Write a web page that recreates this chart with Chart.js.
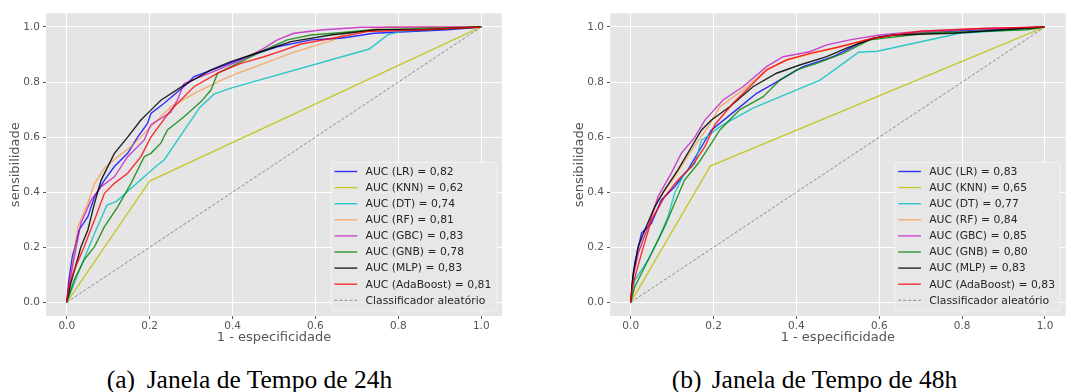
<!DOCTYPE html>
<html><head><meta charset="utf-8">
<script src="https://cdn.jsdelivr.net/npm/chart.js@4"></script>
<style>
html,body{margin:0;padding:0;background:#fff}
body{width:1071px;height:392px;overflow:hidden;position:relative;font-family:'DejaVu Sans'}
canvas{position:absolute;top:0}
#c1{left:0}
#c2{left:564px}
.cap{position:absolute;top:367px;font-family:'Liberation Serif';font-size:25.5px;line-height:25px;color:#000;white-space:nowrap}
</style></head>
<body>
<canvas id="c1" width="535" height="350"></canvas>
<canvas id="c2" width="507" height="350"></canvas>
<div class="cap" style="left:106.7px">(a)</div>
<div class="cap" style="left:146.7px">Janela de Tempo de 24h</div>
<div class="cap" style="left:671.7px">(b)</div>
<div class="cap" style="left:711.7px">Janela de Tempo de 48h</div>
<script>
// ---------- tick labels ----------
const tickVals = [0, 0.2, 0.4, 0.6, 0.8, 1.0];
const tickLabels = ['0.0', '0.2', '0.4', '0.6', '0.8', '1.0'];

// ---------- legend labels ----------
const labels24 = ['AUC (LR) = 0,82','AUC (KNN) = 0,62','AUC (DT) = 0,74','AUC (RF) = 0,81','AUC (GBC) = 0,83','AUC (GNB) = 0,78','AUC (MLP) = 0,83','AUC (AdaBoost) = 0,81','Classificador aleatório'];
const labels48 = ['AUC (LR) = 0,83','AUC (KNN) = 0,65','AUC (DT) = 0,77','AUC (RF) = 0,84','AUC (GBC) = 0,85','AUC (GNB) = 0,80','AUC (MLP) = 0,83','AUC (AdaBoost) = 0,83','Classificador aleatório'];

// ---------- 24h curves (fpr / tpr) ----------
const lr24_fpr  = [0,0.005,0.014,0.018,0.030,0.051,0.067,0.091,0.115,0.147,0.171,0.195,0.203,0.235,0.291,0.307,0.372,0.436,0.508,0.589,0.661,0.741,0.918,1];
const lr24_tpr  = [0,0.08,0.17,0.19,0.263,0.311,0.384,0.444,0.493,0.541,0.60,0.65,0.686,0.723,0.795,0.82,0.856,0.892,0.928,0.953,0.959,0.977,0.99,1];
const knn24_fpr = [0,0.2,1];
const knn24_tpr = [0,0.44,1];
const dt24_fpr  = [0,0.034,0.067,0.097,0.119,0.219,0.235,0.321,0.356,0.40,0.73,0.775,0.81,1];
const dt24_tpr  = [0,0.129,0.25,0.353,0.366,0.499,0.517,0.708,0.757,0.78,0.92,0.972,0.985,1];
const rf24_fpr  = [0,0.01,0.027,0.051,0.067,0.091,0.123,0.155,0.195,0.251,0.316,0.364,0.412,0.476,0.540,0.605,0.644,0.673,0.773,1];
const rf24_tpr  = [0,0.1,0.275,0.36,0.432,0.487,0.529,0.565,0.626,0.71,0.765,0.801,0.832,0.868,0.904,0.935,0.953,0.977,1,1];
const gbc24_fpr = [0,0.01,0.034,0.059,0.083,0.115,0.147,0.187,0.203,0.251,0.267,0.283,0.324,0.364,0.412,0.468,0.508,0.548,0.613,0.709,1];
const gbc24_tpr = [0,0.1,0.287,0.372,0.42,0.456,0.529,0.59,0.645,0.69,0.735,0.795,0.82,0.844,0.874,0.916,0.953,0.977,0.989,0.999,1];
const gnb24_fpr = [0,0.018,0.042,0.067,0.091,0.123,0.155,0.187,0.203,0.227,0.243,0.283,0.324,0.348,0.364,0.412,0.468,0.532,0.589,0.644,0.741,1];
const gnb24_tpr = [0,0.081,0.154,0.202,0.275,0.347,0.432,0.529,0.541,0.578,0.626,0.674,0.729,0.771,0.832,0.868,0.91,0.953,0.971,0.977,0.99,1];
const mlp24_fpr = [0,0.01,0.034,0.051,0.067,0.083,0.115,0.147,0.179,0.203,0.227,0.283,0.348,0.396,0.468,0.541,0.637,0.749,0.861,1];
const mlp24_tpr = [0,0.07,0.2,0.263,0.36,0.444,0.541,0.60,0.662,0.698,0.734,0.789,0.844,0.874,0.91,0.947,0.971,0.99,0.99,1];
const ada24_fpr = [0,0.005,0.018,0.042,0.067,0.091,0.115,0.147,0.179,0.203,0.251,0.307,0.364,0.42,0.476,0.524,0.565,0.644,0.725,0.861,1];
const ada24_tpr = [0,0.06,0.117,0.202,0.299,0.396,0.432,0.469,0.529,0.60,0.698,0.783,0.832,0.868,0.892,0.916,0.938,0.96,0.983,0.99,1];

// ---------- 48h curves (fpr / tpr) ----------
const lr48_fpr  = [0,0.005,0.01,0.026,0.05,0.074,0.106,0.138,0.171,0.195,0.255,0.304,0.36,0.416,0.489,0.553,0.601,0.7,0.85,1];
const lr48_tpr  = [0,0.08,0.142,0.251,0.287,0.372,0.42,0.481,0.565,0.626,0.699,0.759,0.807,0.856,0.892,0.941,0.965,0.98,0.99,1];
const knn48_fpr = [0,0.192,1];
const knn48_tpr = [0,0.495,1];
const dt48_fpr  = [0,0.01,0.042,0.066,0.09,0.106,0.13,0.155,0.171,0.183,0.215,0.295,0.457,0.513,0.55,0.595,0.795,0.899,1];
const dt48_tpr  = [0,0.081,0.154,0.226,0.311,0.396,0.469,0.505,0.59,0.60,0.638,0.705,0.807,0.868,0.908,0.912,0.977,0.987,1];
const rf48_fpr  = [0,0.005,0.018,0.042,0.066,0.106,0.147,0.187,0.215,0.271,0.328,0.376,0.441,0.505,0.569,0.65,0.8,1];
const rf48_tpr  = [0,0.09,0.178,0.275,0.372,0.456,0.553,0.638,0.71,0.771,0.844,0.88,0.904,0.928,0.953,0.975,0.99,1];
const gbc48_fpr = [0,0.005,0.018,0.042,0.066,0.098,0.122,0.155,0.179,0.223,0.271,0.328,0.368,0.432,0.473,0.529,0.601,0.7,0.85,1];
const gbc48_tpr = [0,0.09,0.178,0.275,0.384,0.469,0.541,0.60,0.662,0.735,0.783,0.856,0.892,0.91,0.935,0.953,0.971,0.985,0.995,1];
const gnb48_fpr = [0,0.01,0.034,0.058,0.082,0.106,0.13,0.163,0.195,0.215,0.263,0.32,0.36,0.40,0.449,0.513,0.553,0.577,0.714,0.956,1];
const gnb48_tpr = [0,0.057,0.129,0.202,0.275,0.36,0.444,0.505,0.578,0.626,0.699,0.747,0.807,0.844,0.868,0.904,0.935,0.953,0.977,0.99,1];
const mlp48_fpr = [0,0.003,0.006,0.018,0.034,0.058,0.082,0.114,0.147,0.171,0.195,0.239,0.295,0.352,0.408,0.473,0.521,0.585,0.634,0.779,0.899,1];
const mlp48_tpr = [0,0.06,0.105,0.202,0.263,0.347,0.408,0.481,0.565,0.626,0.662,0.71,0.783,0.832,0.862,0.892,0.923,0.959,0.971,0.977,0.99,1];
const ada48_fpr = [0,0.003,0.006,0.026,0.05,0.082,0.114,0.147,0.179,0.203,0.247,0.295,0.328,0.376,0.432,0.505,0.585,0.7,0.85,1];
const ada48_tpr = [0,0.04,0.069,0.178,0.299,0.384,0.444,0.493,0.565,0.645,0.723,0.795,0.844,0.88,0.904,0.928,0.959,0.985,0.995,1];

// random classifier diagonal
const rand_fpr = [0,1];
const rand_tpr = [0,1];

// ---------- styles ----------
const lineColors = ['rgba(0,0,255,0.8)','rgba(191,191,0,0.8)','rgba(0,191,191,0.8)','rgba(255,127,14,0.55)','rgba(191,0,191,0.7)','rgba(0,128,0,0.8)','rgba(0,0,0,0.85)','rgba(255,0,0,0.8)','rgba(128,128,128,0.9)'];

function pts(xs, ys){ return xs.map((x,i)=>({x:x, y:ys[i]})); }

function buildDatasets(labels, curves){
  const n = curves.length;
  return curves.map((c,i)=>({
    label: labels[i],
    data: pts(c[0], c[1]),
    borderColor: lineColors[i],
    borderWidth: i === n-1 ? 1 : 1.4,
    borderDash: i === n-1 ? [3,2] : [],
    showLine: true,
    pointRadius: 0,
    tension: 0,
    fill: false,
    order: n - i
  }));
}

const bgPlugin = {
  id: 'plotbg',
  beforeDraw(c){
    const a = c.chartArea, ctx = c.ctx;
    ctx.save();
    ctx.fillStyle = '#E5E5E5';
    ctx.fillRect(a.left, a.top, a.right - a.left, a.bottom - a.top);
    ctx.restore();
  }
};

const legendPlugin = {
  id: 'inlegend',
  afterDraw(c){
    const ctx = c.ctx, a = c.chartArea, ds = c.data.datasets;
    ctx.save();
    ctx.font = '10.8px "DejaVu Sans"';
    const tw = Math.max(...ds.map(d => ctx.measureText(d.label).width));
    const w = 3.3 + 22.7 + 8.3 + tw + 5.4, h = 148.3;
    const right = a.right - 5.3, bottom = a.bottom - 5.3;
    const left = right - w, top = bottom - h;
    ctx.beginPath();
    if (ctx.roundRect) ctx.roundRect(left, top, w, h, 2.5); else ctx.rect(left, top, w, h);
    ctx.fillStyle = 'rgba(232,232,232,0.85)';
    ctx.fill();
    ctx.strokeStyle = 'rgba(245,245,245,0.9)';
    ctx.lineWidth = 1;
    ctx.stroke();
    ds.forEach((d,i) => {
      const y = top + 9 + i * 16.1;
      ctx.beginPath();
      ctx.setLineDash(d.borderDash || []);
      ctx.strokeStyle = d.borderColor;
      ctx.lineWidth = d.borderWidth;
      ctx.moveTo(left + 3.3, y);
      ctx.lineTo(left + 26, y);
      ctx.stroke();
      ctx.setLineDash([]);
      ctx.fillStyle = '#262626';
      ctx.textBaseline = 'middle';
      ctx.textAlign = 'left';
      ctx.fillText(d.label, left + 34.3, y + 0.5);
    });
    ctx.restore();
  }
};

function makeOptions(padRight){
  const tickFont = {family: 'DejaVu Sans', size: 10.5};
  const titleFont = {family: 'DejaVu Sans', size: 13};
  return {
    responsive: false,
    animation: false,
    layout: {padding: {left: 0, top: 13.2, right: padRight, bottom: 0}},
    plugins: {legend: {display: false}, tooltip: {enabled: false}},
    scales: {
      x: {
        type: 'linear', min: -0.05, max: 1.05,
        afterBuildTicks: s => { s.ticks = tickVals.map(v => ({value: v})); },
        afterFit: s => { s.height = 33.9; },
        grid: {color: '#ffffff', lineWidth: 1, tickColor: '#555555', tickLength: 3, tickWidth: 1},
        border: {display: false},
        ticks: {color: '#555555', font: tickFont, padding: 1, maxRotation: 0, autoSkip: false,
                callback: (v, i) => tickLabels[i]},
        title: {display: true, text: '1 - especificidade', color: '#555555', font: titleFont,
                padding: {top: 0, bottom: 4.2}}
      },
      y: {
        type: 'linear', min: -0.05, max: 1.05,
        afterBuildTicks: s => { s.ticks = tickVals.map(v => ({value: v})); },
        afterFit: s => { s.width = 46; },
        grid: {color: '#ffffff', lineWidth: 1, tickColor: '#555555', tickLength: 3, tickWidth: 1},
        border: {display: false},
        ticks: {color: '#555555', font: tickFont, padding: 3, autoSkip: false,
                callback: (v, i) => tickLabels[i]},
        title: {display: true, text: 'sensibilidade', color: '#555555', font: titleFont,
                padding: {top: 8, bottom: 0}}
      }
    }
  };
}

const curves24 = [[lr24_fpr,lr24_tpr],[knn24_fpr,knn24_tpr],[dt24_fpr,dt24_tpr],[rf24_fpr,rf24_tpr],[gbc24_fpr,gbc24_tpr],[gnb24_fpr,gnb24_tpr],[mlp24_fpr,mlp24_tpr],[ada24_fpr,ada24_tpr],[rand_fpr,rand_tpr]];
const curves48 = [[lr48_fpr,lr48_tpr],[knn48_fpr,knn48_tpr],[dt48_fpr,dt48_tpr],[rf48_fpr,rf48_tpr],[gbc48_fpr,gbc48_tpr],[gnb48_fpr,gnb48_tpr],[mlp48_fpr,mlp48_tpr],[ada48_fpr,ada48_tpr],[rand_fpr,rand_tpr]];

new Chart(document.getElementById('c1'), {
  type: 'scatter',
  data: {datasets: buildDatasets(labels24, curves24)},
  options: makeOptions(33),
  plugins: [bgPlugin, legendPlugin]
});
new Chart(document.getElementById('c2'), {
  type: 'scatter',
  data: {datasets: buildDatasets(labels48, curves48)},
  options: makeOptions(5.3),
  plugins: [bgPlugin, legendPlugin]
});
</script>
</body></html>
